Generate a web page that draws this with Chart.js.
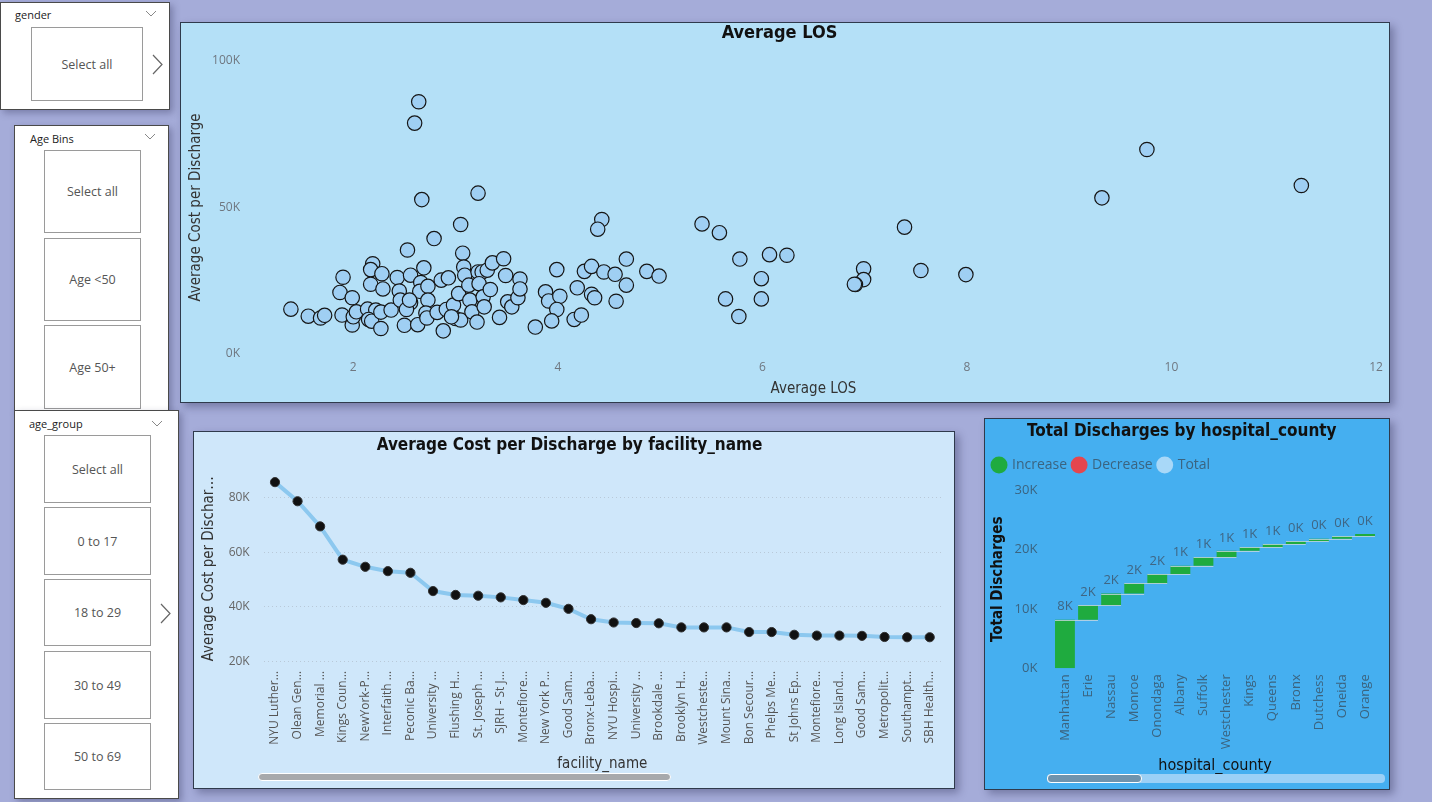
<!DOCTYPE html>
<html><head><meta charset="utf-8">
<script src="https://cdn.jsdelivr.net/npm/chart.js@4.4.1/dist/chart.umd.min.js"></script>
<style>
html,body{margin:0;padding:0;width:1432px;height:802px;overflow:hidden;background:#a5acd9;font-family:"Segoe UI","Open Sans","Noto Sans",sans-serif;}
.abs{position:absolute;box-sizing:border-box;}
.slicer{background:#fff;border:1px solid #4a4a4a;box-shadow:3px 3px 7px rgba(40,40,80,0.35);}
.hd{font-size:11px;color:#222;line-height:14px;}
.btn{border:1px solid #9a9a9a;background:#fff;display:flex;align-items:center;justify-content:center;font-size:12.5px;color:#555;}
.panel{border:1px solid #2f3a4c;box-shadow:4px 4px 8px rgba(30,30,70,0.35);}
canvas{position:absolute;left:0;top:0;}
.scroll{border-radius:4px;}
</style></head>
<body>
<!-- slicers -->
<div class="abs slicer" style="left:0;top:2px;width:170px;height:108px;"></div>
<div class="abs hd" style="left:15px;top:8px;">gender</div>
<svg class="abs" style="left:145px;top:10px" width="12" height="7"><polyline points="1,1 6,6 11,1" fill="none" stroke="#888" stroke-width="1"/></svg>
<div class="abs btn" style="left:31px;top:27px;width:112px;height:74px;">Select all</div>
<svg class="abs" style="left:152px;top:54px" width="11" height="21"><polyline points="1,1 10,10.5 1,20" fill="none" stroke="#666" stroke-width="1.2"/></svg>

<div class="abs slicer" style="left:14px;top:125px;width:155px;height:287px;"></div>
<div class="abs hd" style="left:30px;top:132px;">Age Bins</div>
<svg class="abs" style="left:144px;top:133px" width="12" height="7"><polyline points="1,1 6,6 11,1" fill="none" stroke="#888" stroke-width="1"/></svg>
<div class="abs btn" style="left:44px;top:150px;width:97px;height:83px;">Select all</div>
<div class="abs btn" style="left:44px;top:238px;width:97px;height:83px;">Age &lt;50</div>
<div class="abs btn" style="left:44px;top:325px;width:97px;height:84px;">Age 50+</div>

<div class="abs slicer" style="left:14px;top:410px;width:165px;height:389px;"></div>
<div class="abs hd" style="left:29px;top:417px;">age_group</div>
<svg class="abs" style="left:151px;top:420px" width="12" height="7"><polyline points="1,1 6,6 11,1" fill="none" stroke="#888" stroke-width="1"/></svg>
<div class="abs btn" style="left:44px;top:435px;width:107px;height:68px;">Select all</div>
<div class="abs btn" style="left:44px;top:507px;width:107px;height:68px;">0 to 17</div>
<div class="abs btn" style="left:44px;top:579px;width:107px;height:67px;">18 to 29</div>
<div class="abs btn" style="left:44px;top:651px;width:107px;height:68px;">30 to 49</div>
<div class="abs btn" style="left:44px;top:723px;width:107px;height:67px;">50 to 69</div>
<svg class="abs" style="left:160px;top:603px" width="11" height="21"><polyline points="1,1 10,10.5 1,20" fill="none" stroke="#666" stroke-width="1.2"/></svg>

<!-- chart panels -->
<div class="abs panel" style="left:180px;top:22px;width:1210px;height:381px;background:#b4e0f7;">
  <canvas id="scatter" width="1208" height="379" style="width:1208px;height:379px"></canvas>
</div>
<div class="abs panel" style="left:193px;top:431px;width:762px;height:358px;background:#cfe7fa;">
  <canvas id="line" width="760" height="356" style="width:760px;height:356px"></canvas>
  <div class="abs scroll" style="left:64px;top:341px;width:413px;height:8px;background:#a7a9ac;border:1px solid #fff;"></div>
</div>
<div class="abs panel" style="left:984px;top:418px;width:406px;height:372px;background:#45aff0;">
  <canvas id="wf" width="404" height="370" style="width:404px;height:370px"></canvas>
  <div class="abs scroll" style="left:62px;top:355px;width:338px;height:9px;background:#9bd0f6;"></div>
  <div class="abs scroll" style="left:62px;top:355px;width:95px;height:9px;background:#6f93ad;border:1px solid #fff;"></div>
</div>

<script>
// ---------- DATA ----------
const losValues = [2.64,2.60,2.67,3.22,3.05,2.79,2.53,3.07,4.43,4.39,1.39,1.56,1.68,1.72,1.90,1.87,1.89,1.99,1.99,2.00,
 2.03,2.19,2.17,2.17,2.28,2.29,2.14,2.22,2.15,2.18,2.27,2.27,2.37,2.43,2.45,2.46,2.56,2.56,2.52,2.50,
 2.63,2.69,2.66,2.65,2.73,2.73,2.71,2.72,2.82,2.86,2.93,2.88,2.91,2.98,3.00,3.05,3.03,3.08,3.09,3.13,
 3.14,3.16,3.21,3.22,3.26,3.31,3.23,3.27,3.28,3.34,3.36,3.47,3.49,3.43,3.51,3.55,3.61,3.63,3.63,3.78,
 3.88,3.91,3.99,4.02,3.99,3.94,4.16,4.23,4.19,4.26,4.33,4.33,4.36,4.45,4.56,4.57,4.67,4.67,4.87,4.99,
 2.96,2.55,5.41,5.58,5.78,6.07,6.24,5.99,5.99,5.64,5.77,7.39,6.99,6.99,6.91,6.90,7.55,7.99,9.32,9.76,11.27];
const costValues = [86100,78800,52700,54900,44200,39400,35500,34400,45900,42600,15300,12900,12300,13200,26200,21000,13300,19200,9900,12700,
 14400,30800,28800,23800,27400,22200,15300,15000,11800,11200,14300,8700,15000,26100,21500,18400,26900,17500,15200,9800,
 10000,29400,24400,21400,23100,18400,14000,12300,14200,25200,26000,7900,15200,16700,12100,11600,20600,29700,26900,23500,
 18400,14400,10900,28000,28000,28600,24000,19500,16100,22000,31100,32500,26800,12500,17800,16100,19200,25600,22200,9200,
 21200,18100,28800,19700,15200,11300,11800,13300,22600,28200,29900,20400,19200,28000,27200,18000,32400,23500,28200,26600,
 12700,18400,44400,41400,32400,33900,33700,25700,18800,18800,12800,43300,29100,25400,23700,23800,28500,27100,53300,69800,57500];
const scatterXTicks = [2,4,6,8,10,12];
const scatterYTicks = [0,50000,100000];

const facilityNames = ['NYU Luther…','Olean Gen…','Memorial …','Kings Coun…','NewYork-P…','Interfaith …','Peconic Ba…',
 'University …','Flushing H…','St. Joseph …','SJRH - St J…','Montefiore…','New York P…','Good Sam…','Bronx-Leba…',
 'NYU Hospi…','University …','Brookdale …','Brooklyn H…','Westcheste…','Mount Sina…','Bon Secour…','Phelps Me…',
 'St Johns Ep…','Montefiore…','Long Island…','Good Sam…','Metropolit…','Southampt…','SBH Health…'];
const facilityCost = [85700,78700,69500,57300,54700,53100,52500,45800,44400,44100,43500,42500,41500,39300,35500,
 34300,34100,34000,32500,32500,32500,30800,30800,29800,29500,29500,29400,29000,28900,28900];
const lineYTicks = [20000,40000,60000,80000];

const countyNames = ['Manhattan','Erie','Nassau','Monroe','Onondaga','Albany','Suffolk','Westchester','Kings','Queens','Bronx','Dutchess','Oneida','Orange'];
const countyDischarges = [8200,2400,2000,1700,1600,1400,1400,1100,600,550,450,450,400,400];
const waterfallYTicks = [0,10000,20000,30000];
const legendNames = ['Increase','Decrease','Total'];
const legendColors = ['#1fab3f','#e5464e','#a8d8f8'];

// ---------- STYLE ----------
const TITLE_FONT = '"DejaVu Sans Condensed","Liberation Sans Narrow","Roboto",sans-serif';
const UI_FONT = '"Open Sans","Noto Sans",sans-serif';
Chart.defaults.font.family = UI_FONT;
const kFmt = v => Math.round(v/1000) + 'K';
const setTicks = arr => s => { s.ticks = arr.map(v => ({value: v})); };

// ---------- SCATTER ----------
new Chart(document.getElementById('scatter'), {
  type: 'scatter',
  data: {datasets: [{data: losValues.map((x,i) => ({x: x, y: costValues[i]})),
    backgroundColor: '#9fcff3', borderColor: '#151515', borderWidth: 1.2, pointRadius: 7.2, pointHoverRadius: 7.2}]},
  options: {responsive: false, animation: false, events: [],
    layout: {padding: {left: 2, right: 13, top: 0, bottom: 0}},
    plugins: {legend: {display: false}, tooltip: {enabled: false},
      title: {display: true, text: 'Average LOS', color: '#111', font: {family: TITLE_FONT, size: 18, weight: 'bold'}, padding: {top: 0, bottom: 16.4}}},
    scales: {
      x: {type: 'linear', min: 1, max: 12, grid: {display: false, drawTicks: false}, border: {display: false},
        afterBuildTicks: setTicks(scatterXTicks),
        ticks: {color: '#6f7780', font: {size: 12}, padding: 6},
        title: {display: true, text: 'Average LOS', color: '#333', font: {family: TITLE_FONT, size: 15}, padding: {top: 4, bottom: 4}},
        afterFit: s => { s.height = 48; }},
      y: {min: 0, max: 100000, grid: {display: false, drawTicks: false}, border: {display: false},
        afterBuildTicks: setTicks(scatterYTicks),
        ticks: {color: '#6f7780', font: {size: 12}, padding: 11, callback: kFmt},
        title: {display: true, text: 'Average Cost per Discharge', color: '#333', font: {family: TITLE_FONT, size: 15}, padding: {top: 4, bottom: 4}},
        afterFit: s => { s.width = 68; }}
    }}
});

// ---------- LINE ----------
new Chart(document.getElementById('line'), {
  type: 'line',
  data: {labels: facilityNames, datasets: [{data: facilityCost, borderColor: '#8cc8ef', borderWidth: 4,
    pointBackgroundColor: '#111', pointBorderColor: '#333', pointBorderWidth: 1, pointRadius: 4.6, pointHoverRadius: 4.6, tension: 0}]},
  options: {responsive: false, animation: false, events: [],
    layout: {padding: {left: 4, right: 13, top: 0, bottom: 11}},
    plugins: {legend: {display: false}, tooltip: {enabled: false},
      title: {display: true, text: 'Average Cost per Discharge by facility_name', color: '#111', font: {family: TITLE_FONT, size: 17, weight: 'bold'}, padding: {top: 3, bottom: 15}}},
    scales: {
      x: {offset: true, grid: {display: false, drawTicks: false}, border: {display: false},
        ticks: {autoSkip: false, minRotation: 90, maxRotation: 90, color: '#555', font: {size: 12}, padding: 4},
        title: {display: true, text: 'facility_name', color: '#333', font: {family: TITLE_FONT, size: 15}, padding: {top: 4, bottom: 4}},
        afterFit: s => { s.height = 110; }},
      y: {min: 18000, max: 90000, grid: {color: '#b9c9d8', lineWidth: 1, drawTicks: false}, border: {display: false, dash: [1,3]},
        afterBuildTicks: setTicks(lineYTicks),
        ticks: {color: '#666', font: {size: 12}, padding: 14, callback: kFmt},
        title: {display: true, text: 'Average Cost per Dischar…', color: '#333', font: {family: TITLE_FONT, size: 15}, padding: {top: 2, bottom: 2}},
        afterFit: s => { s.width = 65.7; }}
    }}
});

// ---------- WATERFALL ----------
let run = 0;
const wfBars = countyDischarges.map(v => { const b = [run, run + v]; run += v; return b; });

const legendGap = {id: 'legendGap', beforeInit(chart) {
  const fit = chart.legend.fit;
  chart.legend.fit = function() { fit.bind(chart.legend)(); this.height += 8.3; };
}};
const wfDecor = {id: 'wfDecor', afterDatasetsDraw(chart) {
  const ctx = chart.ctx, meta = chart.getDatasetMeta(0), y = chart.scales.y;
  ctx.save();
  ctx.strokeStyle = 'rgba(200,215,225,0.8)'; ctx.lineWidth = 1;
  meta.data.forEach((el, i) => {
    if (i < meta.data.length - 1) {
      const nx = meta.data[i+1];
      const py = Math.round(y.getPixelForValue(wfBars[i][1])) + 0.5;
      ctx.beginPath(); ctx.moveTo(el.x - el.width/2, py); ctx.lineTo(nx.x + nx.width/2, py); ctx.stroke();
    }
  });
  ctx.font = '13px ' + UI_FONT; ctx.fillStyle = '#3f6684'; ctx.textAlign = 'center'; ctx.textBaseline = 'middle';
  meta.data.forEach((el, i) => {
    ctx.fillText(kFmt(countyDischarges[i]), el.x, Math.min(el.y, el.base) - 13);
  });
  ctx.restore();
}};

new Chart(document.getElementById('wf'), {
  type: 'bar',
  data: {labels: countyNames, datasets: [{data: wfBars, backgroundColor: '#1fab3f', borderWidth: 0,
    barPercentage: 0.86, categoryPercentage: 1}]},
  options: {responsive: false, animation: false, events: [],
    layout: {padding: {left: 2, right: 12.4, top: 0, bottom: 9.4}},
    plugins: {tooltip: {enabled: false},
      title: {display: true, text: 'Total Discharges by hospital_county', color: '#111', font: {family: TITLE_FONT, size: 17, weight: 'bold'}, padding: {top: 2.8, bottom: 9.8}},
      legend: {display: true, position: 'top', align: 'start',
        labels: {usePointStyle: true, boxWidth: 12, boxHeight: 12, padding: 6, color: '#3b6480', font: {size: 14, family: UI_FONT},
          generateLabels: () => legendNames.map((n, i) => ({text: n, fillStyle: legendColors[i], strokeStyle: legendColors[i], lineWidth: 0, pointStyle: 'circle', fontColor: '#3b6480', hidden: false, datasetIndex: 0}))}}},
    scales: {
      x: {grid: {display: false, drawTicks: false}, border: {display: false},
        ticks: {autoSkip: false, minRotation: 90, maxRotation: 90, color: '#3b6480', font: {size: 13}, padding: 6},
        title: {display: true, text: 'hospital_county', color: '#111', font: {family: TITLE_FONT, size: 16}, padding: {top: 4, bottom: 4}},
        afterFit: s => { s.height = 111.3; }},
      y: {min: 0, max: 30000, grid: {display: false, drawTicks: false}, border: {display: false},
        afterBuildTicks: setTicks(waterfallYTicks),
        ticks: {color: '#3b6480', font: {size: 13}, padding: 16, callback: kFmt},
        title: {display: true, text: 'Total Discharges', color: '#111', font: {family: TITLE_FONT, size: 15, weight: 'bold'}, padding: {top: 2, bottom: 2}},
        afterFit: s => { s.width = 66.4; }}
    }},
  plugins: [legendGap, wfDecor]
});
</script>
</body></html>
